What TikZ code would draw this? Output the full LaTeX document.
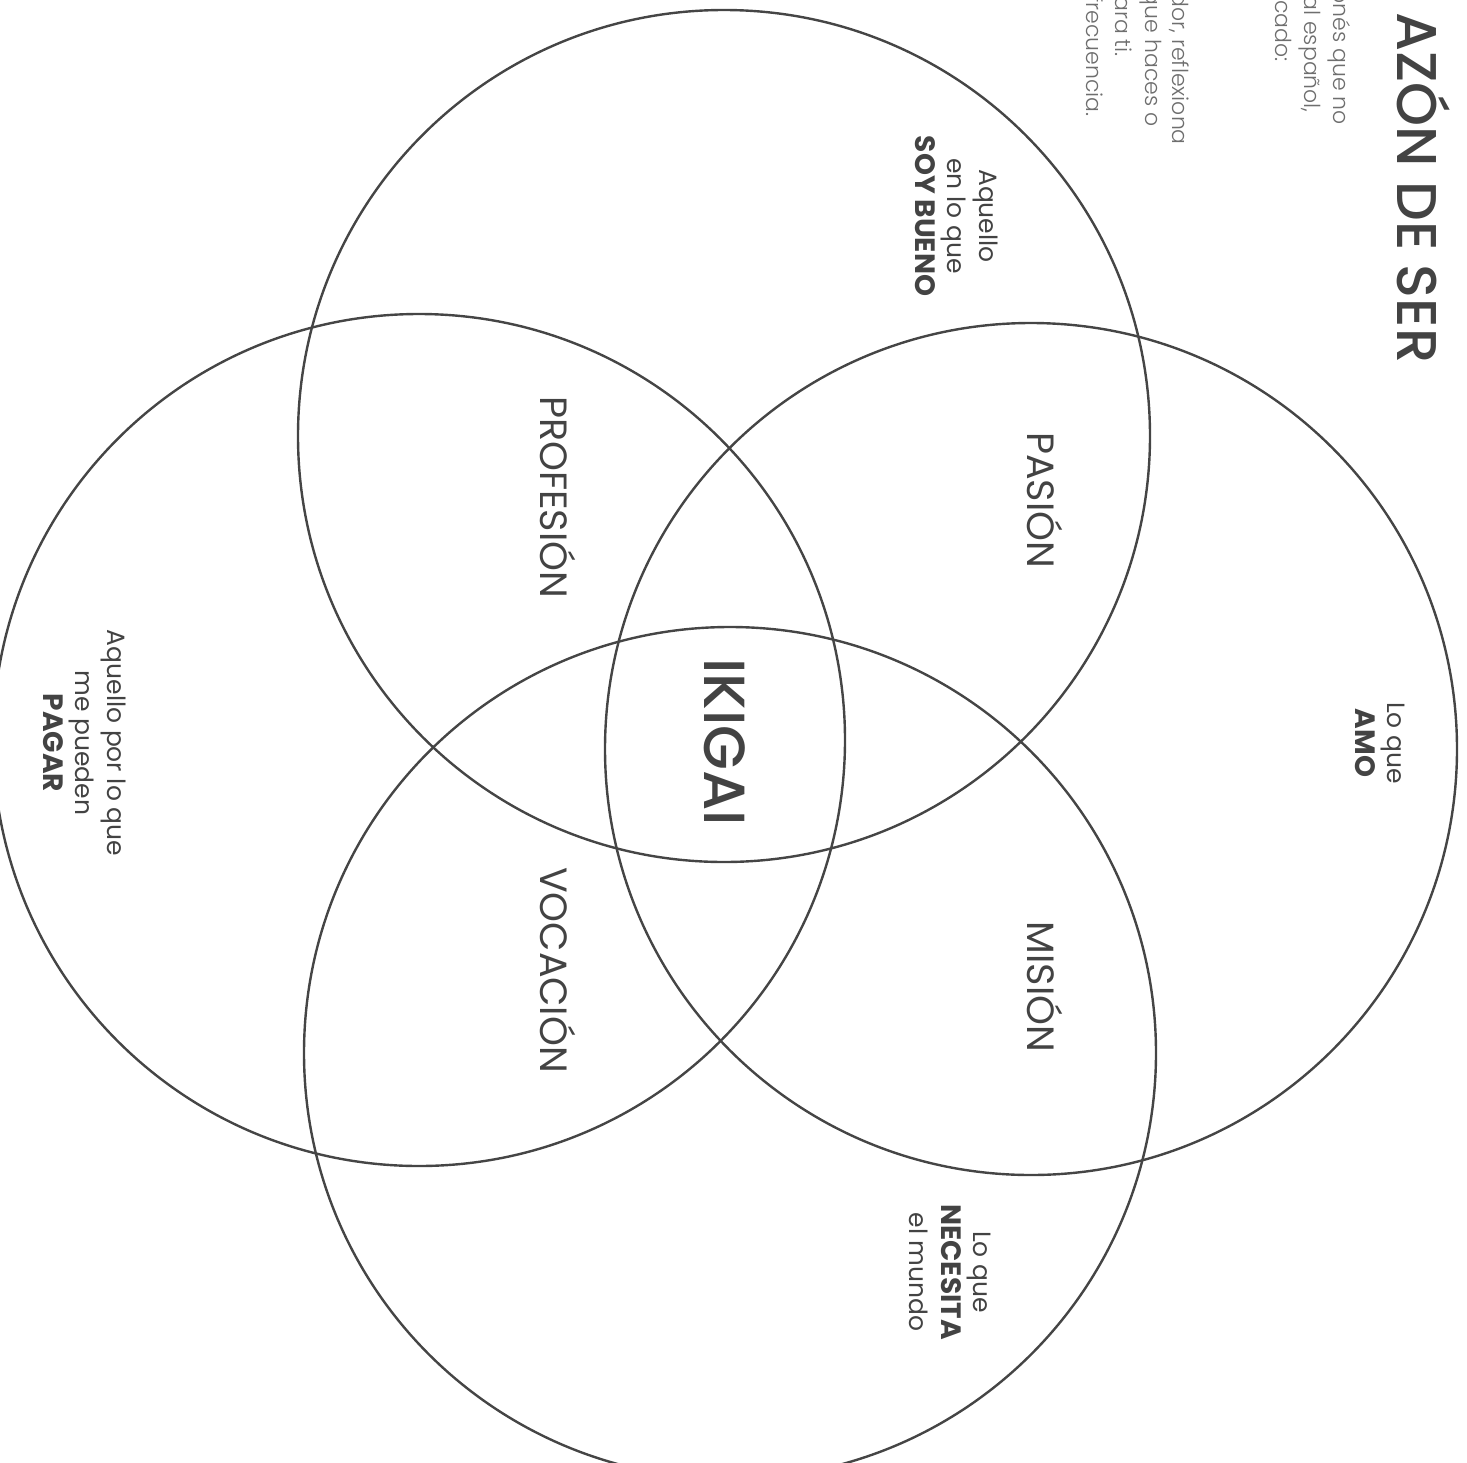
\documentclass[tikz,border=0pt]{standalone}
\usepackage{fontspec}
\setmainfont{Poppins}
\IfFontExistsTF{Poppins Light}{\newfontfamily\lightfont{Poppins Light}}{\newfontfamily\lightfont{Poppins}}
\IfFontExistsTF{Poppins Medium}{\newfontfamily\mediumfont{Poppins Medium}}{\newfontfamily\mediumfont{Poppins}}
\definecolor{textgray}{HTML}{434343}
\definecolor{ringgray}{HTML}{454545}
\definecolor{paragray}{HTML}{6E6E6E}
\newcommand\keyword[1]{{\fontsize{28}{32}\selectfont\bfseries #1}}
\begin{document}
\begin{tikzpicture}[x=1pt,y=-1pt,
  ring/.style={circle, draw=ringgray, line width=2.4pt, minimum size=852pt, inner sep=0pt},
  big/.style={rotate=-90, text=textgray, font=\fontsize{38}{44}\selectfont, inner sep=0pt},
  small/.style={rotate=-90, text=textgray, align=center, font=\fontsize{25}{32}\selectfont, inner sep=0pt},
  para/.style={rotate=-90, text=paragray, font=\lightfont\fontsize{22}{29}\selectfont, inner sep=0pt, anchor=base east},
]
\useasboundingbox (0,0) rectangle (1467,1462);
\node[ring] (cTop) at (724,436) {};
\node[ring] (cRight) at (1031,749) {};
\node[ring] (cLeft) at (419,740) {};
\node[ring] (cBottom) at (730,1053) {};

\node[big, font=\mediumfont\fontsize{58}{60}\selectfont] (ikigai) at (725,742) {IKIGAI};
\node[big] (pasion) at (1045,500) {PASIÓN};
\node[big] (profesion) at (558,497) {PROFESIÓN};
\node[big] (mision) at (1045,987) {MISIÓN};
\node[big] (vocacion) at (558,970) {VOCACIÓN};

\node[small] (bueno) at (957,216) {Aquello\\en lo que\\\keyword{SOY BUENO}};
\node[small] (amo) at (1380,743) {Lo que\\\keyword{AMO}};
\node[small] (pagar) at (85,743) {Aquello por lo que\\me pueden\\\keyword{PAGAR}};
\node[small] (necesita) at (950,1272) {Lo que\\\keyword{NECESITA}\\el mundo};

\node[rotate=-90, anchor=base west, text=textgray, font=\mediumfont\fontsize{56}{60}\selectfont, inner sep=0pt] (title) at (1397,12) {AZÓN DE SER};

\node[para] (p1) at (1333,125) {onés que no};
\node[para] (p2) at (1304,113) {al español,};
\node[para] (p3) at (1275,62) {icado:};
\node[para] (p4) at (1172,145) {dor, reflexiona};
\node[para] (p5) at (1145,127) {que haces o};
\node[para] (p6) at (1115,57) {ara ti.};
\node[para] (p7) at (1086,117) {frecuencia.};
\end{tikzpicture}
\end{document}
